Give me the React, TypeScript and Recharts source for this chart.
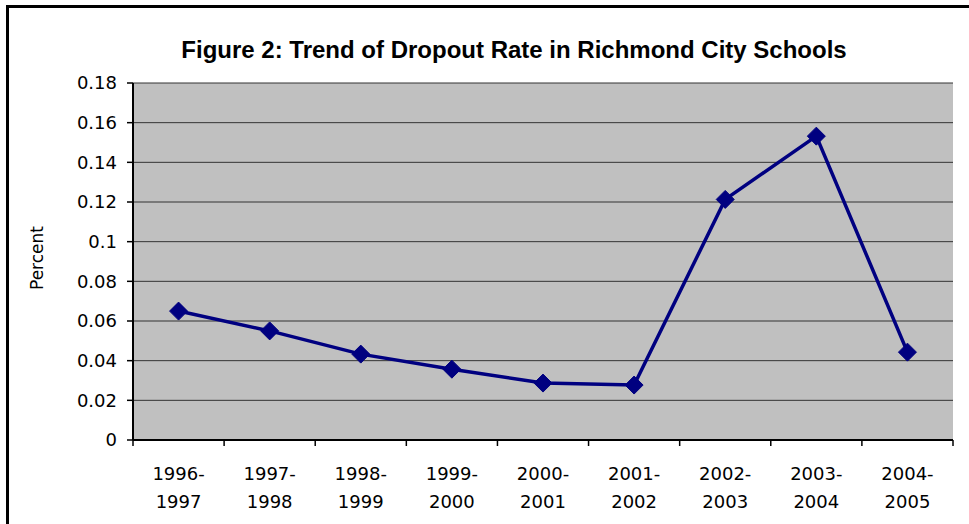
import React from 'react';
import { LineChart, Line, XAxis, YAxis, CartesianGrid } from 'recharts';

const categories = ['1996-1997', '1997-1998', '1998-1999', '1999-2000', '2000-2001', '2001-2002', '2002-2003', '2003-2004', '2004-2005'];
const rates = [0.065, 0.055, 0.0433, 0.0357, 0.0287, 0.0277, 0.1213, 0.1532, 0.0443];
const yTicks = [0, 0.02, 0.04, 0.06, 0.08, 0.1, 0.12, 0.14, 0.16, 0.18];
const boundaryTicks = [0, 1, 2, 3, 4, 5, 6, 7, 8, 9];

const data = categories.map((c, i) => ({ cat: c, rate: rates[i] }));

const FONT = '"DejaVu Sans", sans-serif';

const Diamond = (props: any) => {
  const { cx, cy } = props;
  if (cx == null || cy == null) return null;
  const r = 9;
  return (
    <polygon
      points={`${cx},${cy - r} ${cx + r},${cy} ${cx},${cy + r} ${cx - r},${cy}`}
      fill="#000080"
      stroke="#000080"
    />
  );
};

const CatTick = (props: any) => {
  const { x, y, payload } = props;
  const parts = String(payload.value).split('-');
  return (
    <g>
      <text x={x} y={y + 39} textAnchor="middle" fontFamily={FONT} fontSize={18} fill="#000">
        {parts[0] + '-'}
      </text>
      <text x={x} y={y + 67} textAnchor="middle" fontFamily={FONT} fontSize={18} fill="#000">
        {parts[1]}
      </text>
    </g>
  );
};

const EmptyTick = () => <g />;

export default function App() {
  return (
    <div style={{ position: 'absolute', left: 0, top: 0, width: 969, height: 524, background: '#fff', overflow: 'hidden' }}>
      <div style={{ position: 'absolute', left: 6, top: 5, width: 980, height: 540, borderLeft: '3px solid #000', borderTop: '3px solid #000' }} />
      <div
        style={{
          position: 'absolute',
          left: 0,
          width: 1028,
          top: 35,
          textAlign: 'center',
          fontFamily: '"Liberation Sans", Arial, sans-serif',
          fontWeight: 'bold',
          fontSize: 24,
          lineHeight: '30px',
          color: '#000',
        }}
      >
        Figure 2: Trend of Dropout Rate in Richmond City Schools
      </div>
      <div
        style={{
          position: 'absolute',
          left: 37,
          top: 258,
          transform: 'translate(-50%, -50%) rotate(-90deg)',
          fontFamily: FONT,
          fontSize: 17,
          color: '#000',
          whiteSpace: 'nowrap',
        }}
      >
        Percent
      </div>
      <div style={{ position: 'absolute', left: 0, top: 0 }}>
        <LineChart width={969} height={524} data={data} margin={{ top: 83, right: 16, left: 0, bottom: 0 }}>
          <CartesianGrid
            vertical={false}
            horizontal={true}
            fill="#C0C0C0"
            stroke="#333"
            strokeWidth={1}
            horizontalValues={yTicks}
          />
          <XAxis
            xAxisId={0}
            type="number"
            dataKey={() => 0}
            domain={[0, 9]}
            ticks={boundaryTicks}
            interval={0}
            height={1}
            tick={<EmptyTick />}
            tickSize={6}
            tickLine={{ stroke: '#000', strokeWidth: 1.5 }}
            axisLine={{ stroke: '#000', strokeWidth: 2 }}
            allowDataOverflow
          />
          <XAxis
            xAxisId="cat"
            dataKey="cat"
            scale="band"
            height={83}
            interval={0}
            tickLine={false}
            tickSize={0}
            tickMargin={0}
            axisLine={false}
            tick={<CatTick />}
          />
          <YAxis
            width={133}
            domain={[0, 0.18]}
            ticks={yTicks}
            interval={0}
            tickSize={6}
            tickMargin={10}
            tickLine={{ stroke: '#000', strokeWidth: 1.5 }}
            axisLine={{ stroke: '#000', strokeWidth: 2 }}
            tick={{ fontFamily: FONT, fontSize: 18, fill: '#000' }}
          />
          <YAxis
            yAxisId="r"
            orientation="right"
            width={0}
            domain={[0, 0.18]}
            tick={false}
            tickLine={false}
            axisLine={{ stroke: '#808080', strokeWidth: 2 }}
          />
          <Line
            xAxisId="cat"
            dataKey="rate"
            stroke="#000080"
            strokeWidth={3.5}
            dot={<Diamond />}
            activeDot={false}
            isAnimationActive={false}
          />
        </LineChart>
      </div>
    </div>
  );
}
